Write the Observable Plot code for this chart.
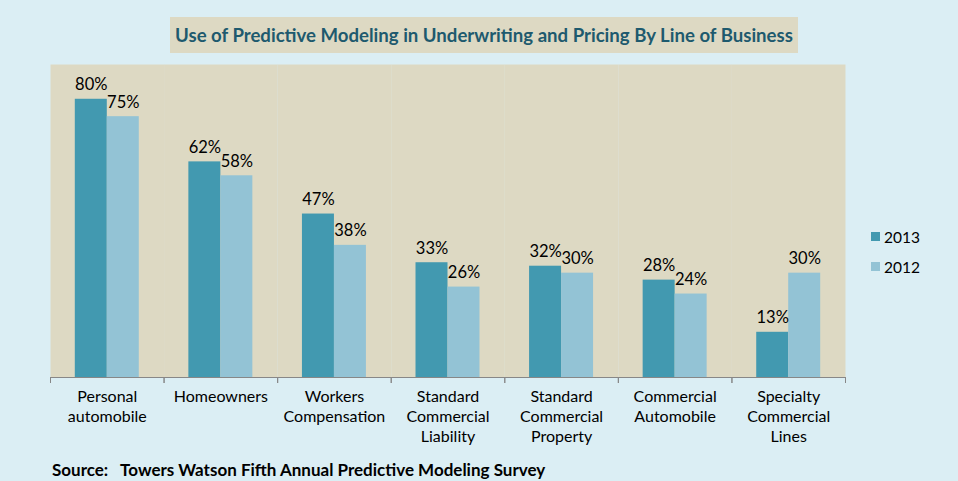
<!DOCTYPE html>
<html>
<head>
<meta charset="utf-8">
<script src="https://cdn.jsdelivr.net/npm/d3@7"></script>
<script src="https://cdn.jsdelivr.net/npm/@observablehq/plot@0.6"></script>
<style>
  html, body { margin: 0; padding: 0; background: #dbeef4; }
  #wrap { position: relative; width: 958px; height: 481px; overflow: hidden; font-family: Lato, "Open Sans", sans-serif; }
  #chart { position: absolute; left: 0; top: 0; }
  #title { position: absolute; left: 170px; top: 17px; width: 628px; height: 36px; background: #ddd9c3;
           color: #1e5a6e; font-weight: bold; font-size: 18.6px; line-height: 36px; text-align: center; white-space: nowrap; }
  #source { position: absolute; left: 52px; top: 459px; font-weight: bold; font-size: 17px; color: #000; white-space: pre; }
  .leg { position: absolute; left: 871px; font-size: 15.5px; color: #000; }
  .leg span.sw { position: absolute; left: 0; width: 9px; height: 9px; }
  .leg span.lb { position: absolute; left: 13px; top: -9px; line-height: 18px; }
</style>
</head>
<body>
<div id="wrap">
  <div id="chart"></div>
  <div id="title">Use of Predictive Modeling in Underwriting and Pricing By Line of Business</div>
  <div id="source"></div>
  <div id="legend"></div>
</div>
<script>
const categories = [
  "Personal\nautomobile",
  "Homeowners",
  "Workers\nCompensation",
  "Standard\nCommercial\nLiability",
  "Standard\nCommercial\nProperty",
  "Commercial\nAutomobile",
  "Specialty\nCommercial\nLines"
];
const years = ["2013", "2012"];
const values2013 = [80, 62, 47, 33, 32, 28, 13];
const values2012 = [75, 58, 38, 26, 30, 24, 30];
const colors = ["#4299b0", "#93c3d5"];
const sourceText = "Source:   Towers Watson Fifth Annual Predictive Modeling Survey";

const rows = [];
categories.forEach((c, i) => {
  rows.push({cat: c, year: years[0], value: values2013[i]});
  rows.push({cat: c, year: years[1], value: values2012[i]});
});

const W = 958, H = 481;
const mTop = 64, mBottom = 104, mLeft = 50, mRight = 113;
const innerH = H - mTop - mBottom;
const axisColor = "#878787";

const chart = Plot.plot({
  width: W,
  height: H,
  marginTop: mTop,
  marginBottom: mBottom,
  marginLeft: mLeft,
  marginRight: mRight,
  style: {background: "transparent", fontFamily: "Lato, 'Open Sans', sans-serif", color: "#000"},
  fx: {domain: categories, padding: 0, round: false, label: null},
  x: {domain: years, paddingInner: 0, paddingOuter: 0.775, round: false, axis: null},
  y: {domain: [0, 90], axis: null},
  color: {domain: years, range: colors},
  marks: [
    Plot.frame({fill: "#ddd9c3", stroke: "none"}),
    Plot.barY(rows, {fx: "cat", x: "year", y: "value", fill: "year"}),
    Plot.text(rows, {fx: "cat", x: "year", y: "value", text: d => d.value + "%", lineAnchor: "bottom", dy: -9, fontSize: 16.5, fill: "#000"}),
    Plot.frame({anchor: "bottom", stroke: axisColor}),
    Plot.frame({anchor: "left", insetTop: innerH, insetBottom: -5, stroke: axisColor}),
    Plot.frame({anchor: "right", insetTop: innerH, insetBottom: -5, stroke: axisColor}),
    Plot.axisFx({anchor: "bottom", tickSize: 0, tickPadding: 10, label: null, fontSize: 16, lineHeight: 1.25, fill: "#000"})
  ]
});
document.getElementById("chart").appendChild(chart);
document.getElementById("source").textContent = sourceText;

const legend = document.getElementById("legend");
const legTops = [237, 267];
years.forEach((y, i) => {
  const d = document.createElement("div");
  d.className = "leg";
  d.style.top = legTops[i] + "px";
  d.innerHTML = `<span class="sw" style="top:-5px;background:${colors[i]}"></span><span class="lb">${y}</span>`;
  legend.appendChild(d);
});
</script>
</body>
</html>
